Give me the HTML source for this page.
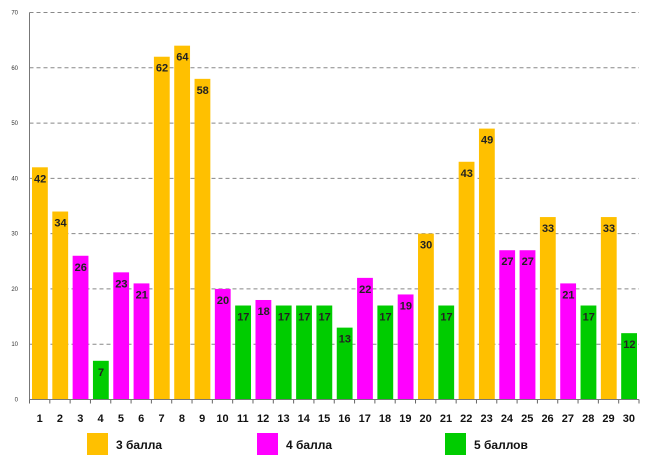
<!DOCTYPE html>
<html><head><meta charset="utf-8"><style>
body{margin:0;background:#fff;font-family:"Liberation Sans","DejaVu Sans",sans-serif}
</style></head><body>
<svg id="chart" width="650" height="469" xmlns="http://www.w3.org/2000/svg"></svg>
<script>
const categories=["1","2","3","4","5","6","7","8","9","10","11","12","13","14","15","16","17","18","19","20","21","22","23","24","25","26","27","28","29","30"];
const values=[42,34,26,7,23,21,62,64,58,20,17,18,17,17,17,13,22,17,19,30,17,43,49,27,27,33,21,17,33,12];
const grades=[3,3,4,5,4,4,3,3,3,4,5,4,5,5,5,5,4,5,4,3,5,3,3,4,4,3,4,5,3,5];
const yTicks=[0,10,20,30,40,50,60,70];
const seriesNames=["3 балла","4 балла","5 баллов"];
const colors={3:"#FFC000",4:"#FF00FF",5:"#00CC00"};
const NS="http://www.w3.org/2000/svg";
const svg=document.getElementById('chart');
const x0=29.5,x1=639,y0=399.5,yTop=12.5,yMax=70;
const band=(x1-x0)/categories.length;
const y=v=>y0-(v/yMax)*(y0-yTop);
const xb=i=>x0+i*band;
function mk(t,a){const e=document.createElementNS(NS,t);for(const k in a)e.setAttribute(k,a[k]);svg.appendChild(e);return e;}
yTicks.forEach(t=>{
  if(t>0){const g=mk('line',{x1:x0,x2:x1,y1:y(t),y2:y(t),stroke:'#888','stroke-dasharray':'4,3','stroke-width':1});
  
  }
  const tl=mk('text',{x:18,y:y(t)+2,'font-size':6,'text-anchor':'end',fill:'#333'});
  tl.textContent=t;
  
  
});
values.forEach((v,i)=>{
  const r=mk('rect',{x:xb(i)+2.5,y:y(v),width:band-4.5,height:y0-y(v),fill:colors[grades[i]]});
  
  
  const t=mk('text',{x:xb(i)+band/2+0.5,y:y(v)+15,'font-size':11,'font-weight':'bold','text-anchor':'middle',fill:'#222'});
  t.textContent=v;
  
  
  const c=mk('text',{x:xb(i)+band/2,y:422,'font-size':11,'font-weight':'bold','text-anchor':'middle',fill:'#111'});
  c.textContent=categories[i];
  
  
});
for(let i=0;i<=categories.length;i++){
  const tk=mk('line',{x1:xb(i),x2:xb(i),y1:y0,y2:y0+4,stroke:'#666'});
  
  
}
const ax=mk('line',{x1:x0,x2:x0,y1:yTop,y2:y0,stroke:'#777'});


const bx=mk('line',{x1:x0,x2:x1,y1:y0,y2:y0,stroke:'#777'});


const legX=[87,257,445];
[3,4,5].forEach((g,k)=>{
  const s=mk('rect',{x:legX[k],y:433,width:21,height:22,fill:colors[g]});
  
  
  const t=mk('text',{x:legX[k]+29,y:449,'font-size':12,'font-weight':'bold',fill:'#111'});
  t.textContent=seriesNames[k];
  
  
});
</script>
</body></html>
